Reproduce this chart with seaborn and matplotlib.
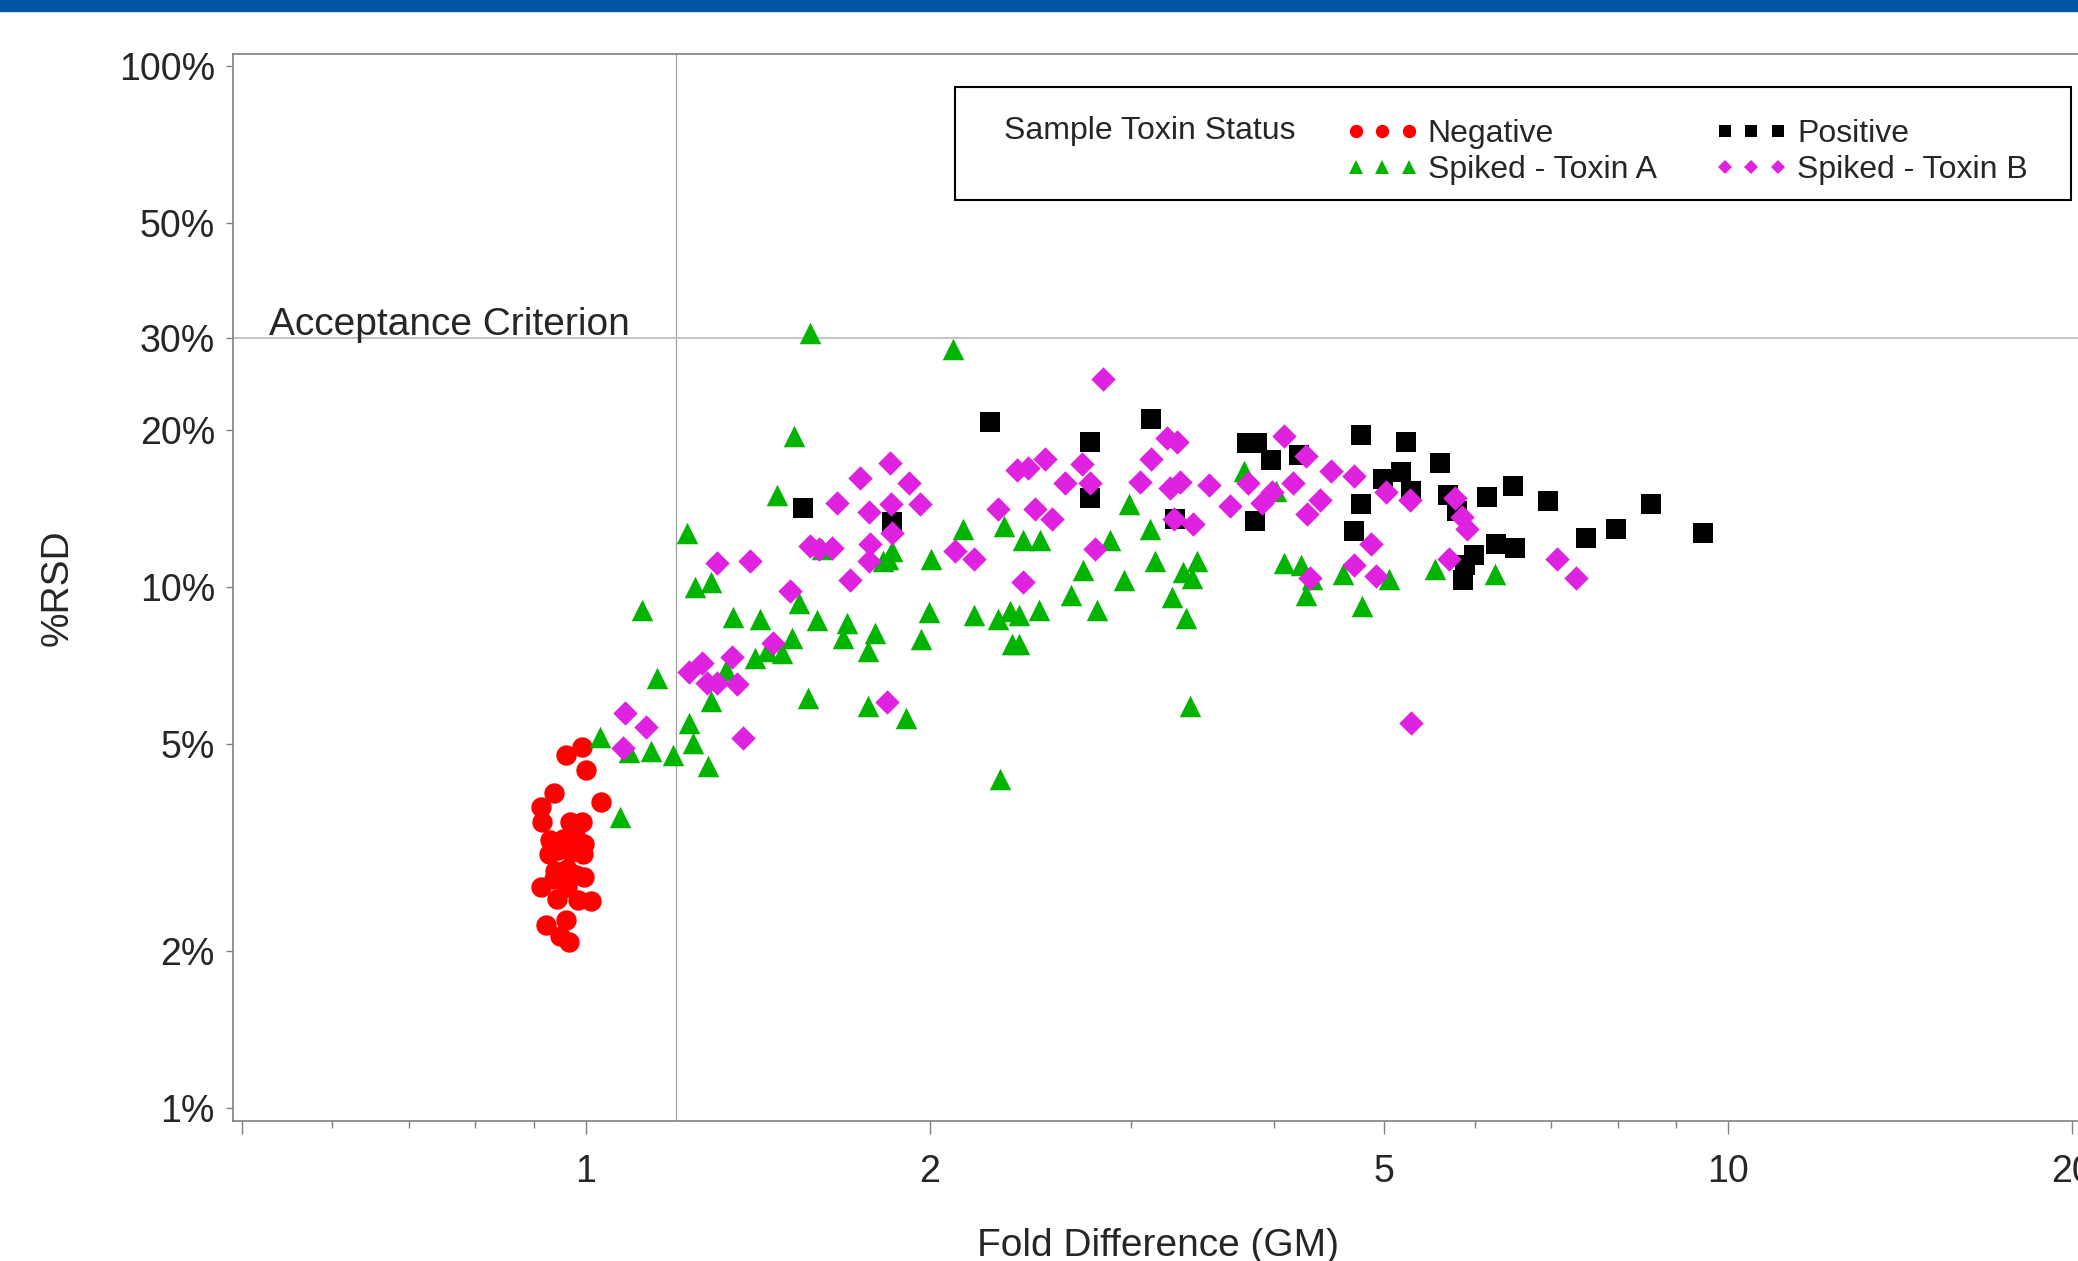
import matplotlib
matplotlib.use("Agg")
import matplotlib.pyplot as plt
from matplotlib.lines import Line2D
from matplotlib.patches import Rectangle
from matplotlib.ticker import FixedLocator, FuncFormatter, NullLocator
import pandas as pd
import seaborn as sns

# ---- data: fold difference (GM) and %RSD per sample toxin status ----
neg_fold = [0.961, 0.992, 1.000, 0.938, 0.913, 1.030, 0.916, 0.968, 0.992, 0.930,
            0.955, 0.979, 0.997, 0.928, 0.945, 0.971, 0.995, 0.940, 0.963, 0.997,
            0.913, 0.943, 0.963, 0.984, 1.011, 0.923, 0.961, 0.950, 0.966, 0.938, 0.981]
neg_rsd = [4.75, 4.93, 4.46, 4.02, 3.78, 3.87, 3.54, 3.54, 3.54, 3.27,
           3.28, 3.34, 3.21, 3.07, 3.12, 3.10, 3.07, 2.85, 2.88, 2.78,
           2.65, 2.52, 2.66, 2.51, 2.49, 2.24, 2.29, 2.14, 2.08, 2.75, 2.80]

pos_fold = [1.550, 1.853, 2.259, 2.760, 2.763, 3.124, 3.28, 3.79, 3.87, 3.98,
            4.21, 3.85, 4.77, 5.22, 5.59, 4.99, 5.17, 5.27, 4.77, 4.70,
            5.68, 5.79, 6.15, 6.48, 6.95, 8.55, 9.5, 7.50, 7.98, 6.51,
            6.26, 5.99, 5.88, 5.86]
pos_rsd = [14.2, 13.3, 20.7, 19.0, 14.8, 21.0, 13.5, 18.9, 18.9, 17.5,
           17.9, 13.4, 19.6, 19.0, 17.3, 16.1, 16.6, 15.3, 14.4, 12.8,
           15.0, 14.0, 14.9, 15.6, 14.6, 14.4, 12.7, 12.4, 12.9, 11.9,
           12.1, 11.5, 11.0, 10.3]

toxa_fold = [1.071, 1.029, 1.090, 1.120, 1.154, 1.141, 1.192, 1.227, 1.232, 1.241,
             1.245, 1.278, 1.287, 1.287, 1.326, 1.344, 1.407, 1.421, 1.440, 1.470,
             1.484, 1.514, 1.521, 1.536, 1.566, 1.571, 1.592, 1.609, 1.678, 1.692,
             1.765, 1.765, 1.791, 1.820, 1.840, 1.853, 1.905, 1.965, 1.995, 2.004,
             2.097, 2.137, 2.185, 2.297, 2.306, 2.323, 2.351, 2.359, 2.392, 2.395,
             2.413, 2.490, 2.495, 2.659, 2.721, 2.802, 2.877, 2.96, 2.99, 3.12,
             3.15, 3.26, 3.33, 3.35, 3.38, 3.39, 3.43, 3.77, 4.02, 4.08,
             4.23, 4.32, 4.27, 4.60, 4.78, 5.05, 5.54, 6.25]
toxa_rsd = [3.62, 5.16, 4.83, 9.01, 6.68, 4.85, 4.76, 12.7, 5.49, 5.01,
            10.0, 4.53, 6.03, 10.2, 6.93, 8.75, 7.30, 8.68, 7.52, 15.0,
            7.46, 7.98, 19.5, 9.31, 6.12, 30.7, 8.63, 11.8, 7.98, 8.52,
            5.91, 7.52, 8.15, 11.2, 11.3, 11.7, 5.60, 7.94, 8.95, 11.3,
            28.6, 12.9, 8.85, 8.68, 4.28, 13.1, 8.97, 7.78, 8.85, 7.78,
            12.3, 9.03, 12.3, 9.66, 10.76, 9.01, 12.3, 10.3, 14.4, 12.9,
            11.2, 9.56, 10.7, 8.71, 5.91, 10.4, 11.2, 16.7, 15.3, 11.1,
            11.0, 10.35, 9.66, 10.6, 9.17, 10.35, 10.8, 10.6]

toxb_fold = [1.083, 1.128, 1.077, 1.230, 1.263, 1.276, 1.302, 1.357, 1.342, 1.372,
             1.457, 1.302, 1.393, 1.510, 1.571, 1.600, 1.641, 1.658, 1.738, 1.771,
             1.774, 1.771, 1.702, 1.844, 1.849, 1.917, 1.962, 1.853, 1.834, 2.104,
             2.187, 2.297, 2.835, 2.383, 2.439, 2.523, 2.718, 2.625, 2.760, 2.474,
             2.557, 2.792, 2.412, 3.122, 3.225, 3.289, 3.056, 3.247, 3.313, 3.27,
             3.40, 3.51, 3.66, 3.80, 3.91, 3.99, 4.08, 4.27, 4.49, 4.70,
             4.16, 4.39, 4.28, 5.02, 5.26, 4.87, 4.70, 4.30, 4.92, 5.69,
             5.76, 5.85, 5.90, 7.08, 7.35, 5.28]
toxb_rsd = [5.72, 5.38, 4.91, 6.85, 7.14, 6.55, 6.55, 6.52, 7.33, 5.13,
            7.80, 11.1, 11.2, 9.84, 12.0, 11.8, 11.9, 14.5, 16.2, 13.9,
            12.1, 11.2, 10.3, 17.3, 14.4, 15.8, 14.4, 12.7, 6.01, 11.7,
            11.3, 14.1, 25.1, 16.8, 16.9, 17.6, 17.2, 15.8, 15.8, 14.1,
            13.5, 11.8, 10.2, 17.6, 19.3, 19.0, 15.9, 15.5, 15.9, 13.5,
            13.2, 15.7, 14.3, 15.8, 14.5, 15.2, 19.5, 17.8, 16.7, 16.3,
            15.8, 14.7, 13.8, 15.2, 14.7, 12.1, 11.0, 10.4, 10.5, 11.3,
            14.8, 13.6, 12.9, 11.3, 10.4, 5.47]

statuses = ["Negative", "Positive", "Spiked - Toxin A", "Spiked - Toxin B"]
criterion_fold = 1.2
criterion_rsd = 30
x_ticks = [0.5, 1, 2, 5, 10, 20]
x_minor = [0.6, 0.7, 0.8, 0.9, 3, 4, 6, 7, 8, 9]
y_ticks = [1, 2, 5, 10, 20, 30, 50, 100]

df = pd.concat([
    pd.DataFrame({"fold": neg_fold, "rsd": neg_rsd, "status": statuses[0]}),
    pd.DataFrame({"fold": pos_fold, "rsd": pos_rsd, "status": statuses[1]}),
    pd.DataFrame({"fold": toxa_fold, "rsd": toxa_rsd, "status": statuses[2]}),
    pd.DataFrame({"fold": toxb_fold, "rsd": toxb_rsd, "status": statuses[3]}),
])

style = {
    "Negative": dict(marker="o", color="#FF0000", s=215, lms=9.6),
    "Positive": dict(marker="s", color="#000000", s=220, lms=9.2),
    "Spiked - Toxin A": dict(marker="^", color="#00B400", s=240, lms=9.8),
    "Spiked - Toxin B": dict(marker="D", color="#DF22DF", s=155, lms=7.4),
}

sns.set_style("white")
plt.rcParams["font.family"] = ["Liberation Sans", "DejaVu Sans"]

W, H = 2078, 1261
fig = plt.figure(figsize=(W / 100, H / 100), dpi=100)
ax = fig.add_axes([233 / W, (H - 1121) / H, 1850 / W, 1067 / H])

# reference lines
ax.axvline(criterion_fold, color="#a0a0a0", lw=0.9, zorder=1)
ax.axhline(criterion_rsd, color="#c4c4c4", lw=1.4, zorder=1)
ax.annotate("Acceptance Criterion", xy=(0.528, criterion_rsd), xytext=(0, 2.5),
            textcoords="offset points", va="baseline", ha="left", fontsize=28)

for st in statuses:
    sub = df[df["status"] == st]
    stl = style[st]
    sns.scatterplot(data=sub, x="fold", y="rsd", marker=stl["marker"], color=stl["color"],
                    s=stl["s"], linewidth=0, ax=ax, legend=False, zorder=3)

ax.set_xscale("log")
ax.set_yscale("log")
ax.set_xlim(0.491, 20.44)
ax.set_ylim(0.9437, 105.4)

ax.xaxis.set_major_locator(FixedLocator(x_ticks))
ax.xaxis.set_minor_locator(FixedLocator(x_minor))
ax.xaxis.set_major_formatter(FuncFormatter(lambda v, p: "" if v < 1 else f"{v:g}"))
ax.xaxis.set_minor_formatter(FuncFormatter(lambda v, p: ""))
ax.yaxis.set_major_locator(FixedLocator(y_ticks))
ax.yaxis.set_minor_locator(NullLocator())
ax.yaxis.set_major_formatter(FuncFormatter(lambda v, p: f"{v:g}%"))

ax.tick_params(axis="x", which="major", length=9.4, width=1.0, color="#808080",
               labelsize=27, pad=14, direction="out", bottom=True)
ax.tick_params(axis="x", which="minor", length=5, width=1.0, color="#808080",
               direction="out", bottom=True)
ax.tick_params(axis="y", which="major", length=5, width=1.0, color="#808080",
               labelsize=27, pad=8, direction="out", left=True)

for side in ["left", "top", "bottom", "right"]:
    ax.spines[side].set_color("#808080")
    ax.spines[side].set_linewidth(1.2)

ax.set_xlabel("Fold Difference (GM)", fontsize=28)
ax.set_ylabel("%RSD", fontsize=28)
ax.xaxis.set_label_coords(0.5, -0.1)
ax.yaxis.set_label_coords(-0.085, 0.5)

# blue band at the top
fig.patches.append(Rectangle((0, 1 - 11 / H), 1, 11 / H, transform=fig.transFigure,
                             color="#0055A4", zorder=5))

# legend box
fig.patches.append(Rectangle((955 / W, 1 - 200 / H), (2071 - 955) / W, 113 / H,
                             transform=fig.transFigure, facecolor="white",
                             edgecolor="black", lw=1.5, zorder=4))
fig.text(1004 / W, 1 - 131 / H, "Sample Toxin Status", fontsize=23, va="center",
         ha="left", zorder=6)
order = ["Negative", "Spiked - Toxin A", "Positive", "Spiked - Toxin B"]
handles = [Line2D([], [], ls="", marker=style[k]["marker"], color=style[k]["color"],
                  markersize=style[k]["lms"], markeredgewidth=0) for k in order]
leg = fig.legend(handles, order, ncol=2, loc="upper left",
                 bbox_to_anchor=(1346 / W, 1 - 119 / H), frameon=False, numpoints=3,
                 handlelength=2.26, handletextpad=0.3, columnspacing=1.83,
                 labelspacing=0.2, borderpad=0, borderaxespad=0, fontsize=23)
leg.set_zorder(6)

fig.savefig("out.png", dpi=100)
